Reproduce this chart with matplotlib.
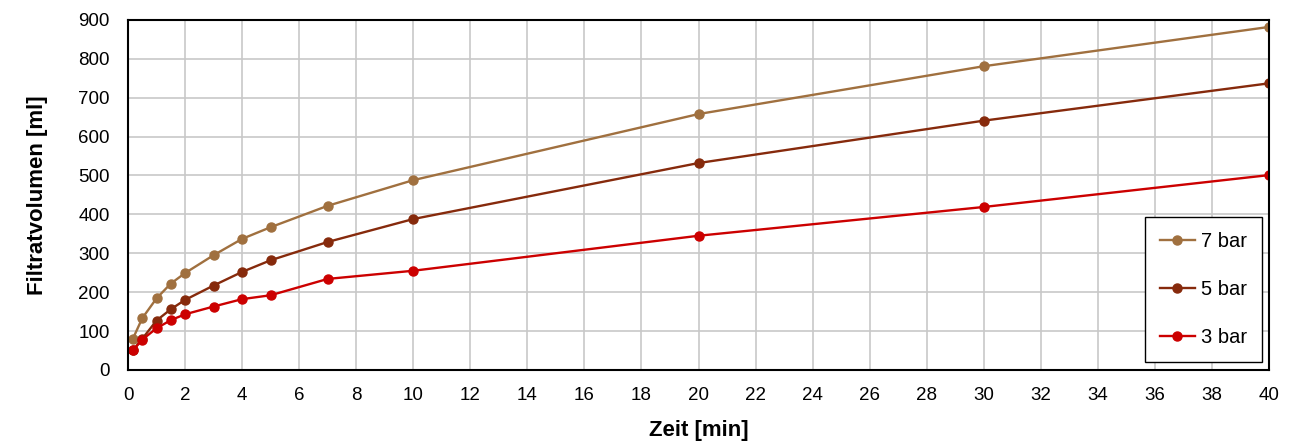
import matplotlib
matplotlib.use('Agg')
import matplotlib.pyplot as plt
import numpy as np

plt.rcParams['font.family'] = ['Liberation Sans', 'DejaVu Sans']

zeit = [0.17, 0.5, 1, 1.5, 2, 3, 4, 5, 7, 10, 20, 30, 40]
vol_7bar = [80, 133, 184, 222, 249, 295, 337, 367, 422, 488, 658, 781, 882]
vol_5bar = [50, 80, 127, 156, 180, 217, 252, 282, 329, 388, 532, 641, 737]
vol_3bar = [50, 78, 107, 128, 143, 163, 182, 192, 234, 255, 345, 419, 501]

fig = plt.figure(figsize=(12.93, 4.43), dpi=100)
ax = fig.add_axes([0.099, 0.165, 0.8825, 0.79])

ax.plot(zeit, vol_7bar, '-o', color='#A0703F', lw=1.7, ms=6.5, label='7 bar')
ax.plot(zeit, vol_5bar, '-o', color='#862A0C', lw=1.7, ms=6.5, label='5 bar')
ax.plot(zeit, vol_3bar, '-o', color='#CC0000', lw=1.7, ms=6.5, label='3 bar')

ax.set_xlim(0, 40)
ax.set_ylim(0, 900)
ax.set_xticks(np.arange(0, 41, 2))
ax.set_yticks(np.arange(0, 901, 100))
ax.grid(True, color='#C8C8C8', lw=1.2)
ax.set_axisbelow(True)
ax.tick_params(length=0, labelsize=13.5)
ax.tick_params(axis='x', pad=12)
ax.tick_params(axis='y', pad=13)
for s in ax.spines.values():
    s.set_linewidth(1.5)
    s.set_color('black')

ax.set_xlabel('Zeit [min]', fontsize=16, fontweight='bold', labelpad=12)
ax.set_ylabel('Filtratvolumen [ml]', fontsize=16, fontweight='bold', labelpad=22)

leg = ax.legend(loc='lower right', bbox_to_anchor=(0.9939, 0.023), fontsize=14.5,
                fancybox=False, edgecolor='black', framealpha=1,
                labelspacing=1.43, handlelength=1.75, borderpad=0.75,
                handletextpad=0.3, borderaxespad=0)
leg.get_frame().set_linewidth(1.0)

plt.savefig('out.png', dpi=100)
